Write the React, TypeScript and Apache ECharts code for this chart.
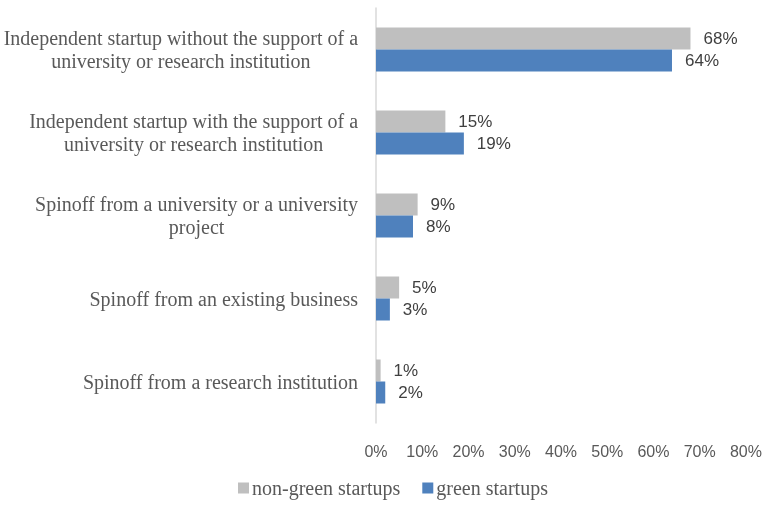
import React, { useEffect, useRef } from "react";
import * as echarts from "echarts";

const categories = [
  "Independent startup without the support of a\nuniversity or research institution",
  "Independent startup with the support of a\nuniversity or research institution",
  "Spinoff from a university or a university\nproject",
  "Spinoff from an existing business",
  "Spinoff from a research institution",
];
const nonGreen = [68, 15, 9, 5, 1];
const green = [64, 19, 8, 3, 2];
const seriesNames = ["non-green startups", "green startups"];
const xTicks = { min: 0, max: 80, interval: 10 };

export default function App() {
  const ref = useRef<HTMLDivElement>(null);
  useEffect(() => {
    if (!ref.current) return;
    const chart = echarts.init(ref.current, undefined, { renderer: "svg" });
    const labelStyle = {
      show: true,
      position: "right",
      distance: 13,
      formatter: "{c}%",
      color: "#404040",
      fontFamily: "Liberation Sans",
      fontSize: 17,
    };
    chart.setOption({
      animation: false,
      grid: { left: 376, right: 19, top: 8, bottom: 82, containLabel: false },
      legend: {
        bottom: 2,
        left: 233,
        itemWidth: 11,
        itemHeight: 11,
        itemGap: 22,
        itemStyle: { borderWidth: 0 },
        icon: "rect",
        textStyle: { fontFamily: "Liberation Serif", fontSize: 20, color: "#595959", padding: [0, 0, 0, -2] },
        data: seriesNames,
      },
      xAxis: {
        type: "value",
        min: xTicks.min,
        max: xTicks.max,
        interval: xTicks.interval,
        axisLine: { show: false },
        axisTick: { show: false },
        splitLine: { show: false },
        axisLabel: {
          formatter: "{value}%",
          margin: 20,
          color: "#595959",
          fontFamily: "Liberation Sans",
          fontSize: 16,
        },
      },
      yAxis: {
        type: "category",
        inverse: true,
        data: categories,
        axisLine: { show: true, lineStyle: { color: "#D9D9D9", width: 1.5 } },
        axisTick: { show: false },
        axisLabel: {
          margin: 18,
          align: "right",
          color: "#595959",
          fontFamily: "Liberation Serif",
          fontSize: 20,
          lineHeight: 23,
          formatter: (v: string) =>
            v
              .split("\n")
              .map((l) => `{c|${l}}`)
              .join("\n"),
          rich: {
            c: {
              align: "center",
              color: "#595959",
              fontFamily: "Liberation Serif",
              fontSize: 20,
              lineHeight: 23,
            },
          },
        },
      },
      series: [
        {
          name: seriesNames[0],
          type: "bar",
          data: nonGreen,
          barWidth: 22,
          barGap: "0%",
          itemStyle: { color: "#BFBFBF" },
          label: labelStyle,
        },
        {
          name: seriesNames[1],
          type: "bar",
          data: green,
          barWidth: 22,
          barGap: "0%",
          itemStyle: { color: "#4F81BD" },
          label: labelStyle,
        },
      ],
    });
    return () => chart.dispose();
  }, []);
  return (
    <div
      ref={ref}
      style={{ position: "fixed", left: 0, top: 0, width: 765, height: 505 }}
    />
  );
}
